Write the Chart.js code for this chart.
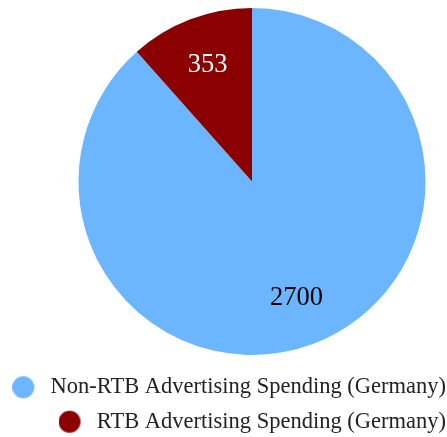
<!DOCTYPE html>
<html>
<head>
<meta charset="utf-8">
<script src="https://cdn.jsdelivr.net/npm/chart.js@4"></script>
<style>
  html, body { margin: 0; padding: 0; background: #fff; }
  #wrap { width: 447px; height: 437px; }
</style>
</head>
<body>
<div id="wrap"><canvas id="pie"></canvas></div>
<script>
const categories = ['Non-RTB Advertising Spending (Germany)', 'RTB Advertising Spending (Germany)'];
const spending = [2700, 353];
const sliceColors = ['#6cb6ff', '#8b0000'];
const labelColors = ['#000000', '#ffffff'];

const serif = '"Liberation Serif", "Times New Roman", serif';
const legendFont = 22.5;
const markerBox = 27;

// legend marker: a round dot on the left side of a wider box, so the text sits further away
function markerCanvas(color) {
    const c = document.createElement('canvas');
    c.width = markerBox;
    c.height = 24;
    const g = c.getContext('2d');
    g.fillStyle = color;
    g.beginPath();
    g.arc(11, 12, 11, 0, Math.PI * 2);
    g.fill();
    return c;
}

// writes each value inside its slice, a bit past the middle of the radius
const sliceLabels = {
    id: 'sliceLabels',
    afterDatasetsDraw(chart) {
        const ctx = chart.ctx;
        const meta = chart.getDatasetMeta(0);
        ctx.save();
        ctx.font = '26.5px ' + serif;
        ctx.textAlign = 'center';
        ctx.textBaseline = 'middle';
        meta.data.forEach((arc, i) => {
            const mid = (arc.startAngle + arc.endAngle) / 2;
            const r = arc.outerRadius * 0.72;
            ctx.fillStyle = labelColors[i];
            ctx.fillText(String(spending[i]), arc.x + Math.cos(mid) * r, arc.y + Math.sin(mid) * r);
        });
        ctx.restore();
    }
};

// pie sits right of centre while the legend keeps the full width;
// legend is nudged right/down to hug the bottom-right corner
const shiftPie = {
    id: 'shiftPie',
    afterLayout(chart) {
        const a = chart.chartArea;
        a.left += 57;
        a.bottom -= 3;
        a.width = a.right - a.left;
        a.height = a.bottom - a.top;
        const lg = chart.legend;
        lg.left += 11; lg.right += 11;
        lg.top += 6; lg.bottom += 6;
    }
};

new Chart(document.getElementById('pie'), {
    type: 'pie',
    data: {
        labels: categories,
        datasets: [{
            data: spending,
            backgroundColor: sliceColors,
            borderWidth: 0
        }]
    },
    options: {
        responsive: true,
        maintainAspectRatio: false,
        animation: false,
        layout: { padding: { top: 8 } },
        plugins: {
            tooltip: { enabled: false },
            legend: {
                position: 'bottom',
                align: 'end',
                labels: {
                    usePointStyle: true,
                    pointStyleWidth: markerBox,
                    padding: 12,
                    color: '#222',
                    font: { family: serif, size: legendFont },
                    generateLabels(chart) {
                        const items = Chart.overrides.pie.plugins.legend.labels.generateLabels(chart);
                        items.forEach((it, i) => { it.pointStyle = markerCanvas(sliceColors[i]); });
                        return items;
                    }
                }
            }
        }
    },
    plugins: [sliceLabels, shiftPie]
});
</script>
</body>
</html>
